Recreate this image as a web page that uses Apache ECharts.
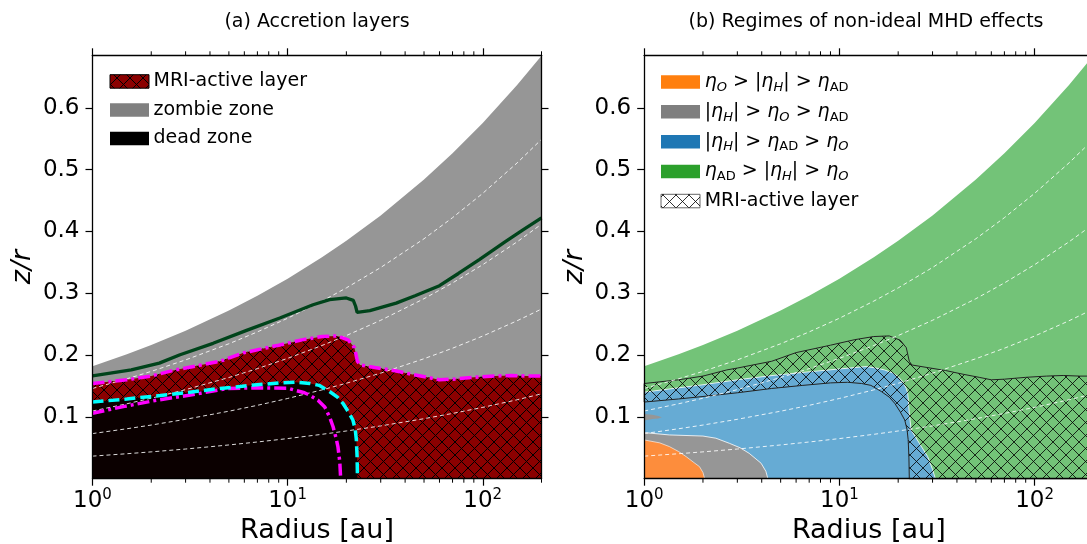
<!DOCTYPE html>
<html>
<head>
<meta charset="utf-8">
<script src="https://cdn.jsdelivr.net/npm/echarts@6/dist/echarts.min.js"></script>
<style>
  html, body { margin: 0; padding: 0; background: #fff; }
  #chart { width: 1087px; height: 544px; }
</style>
</head>
<body>
<div id="chart"></div>
<script>
const FONT = 'DejaVu Sans';

// disk surface and the 1..4 scale-height lines (z/r vs radius)
const radius = [1, 1.5, 2, 3, 5, 7, 10, 15, 20, 30, 50, 70, 100, 150, 200];
const surfaceZ = [0.182, 0.2014, 0.2164, 0.2395, 0.2721, 0.296, 0.3236, 0.3582, 0.3849, 0.4259, 0.484, 0.5264, 0.5755, 0.6369, 0.6844];
const scaleH1 = [0.0365, 0.0404, 0.0434, 0.048, 0.0546, 0.0594, 0.0649, 0.0718, 0.0772, 0.0854, 0.0971, 0.1056, 0.1154, 0.1277, 0.1373];
const scaleH2 = [0.073, 0.0808, 0.0868, 0.0961, 0.1092, 0.1187, 0.1298, 0.1437, 0.1544, 0.1708, 0.1941, 0.2111, 0.2308, 0.2555, 0.2745];
const scaleH3 = [0.1095, 0.1212, 0.1302, 0.1441, 0.1637, 0.1781, 0.1947, 0.2155, 0.2316, 0.2563, 0.2912, 0.3167, 0.3463, 0.3832, 0.4118];
const scaleH4 = [0.146, 0.1616, 0.1736, 0.1922, 0.2183, 0.2375, 0.2596, 0.2873, 0.3087, 0.3417, 0.3882, 0.4223, 0.4617, 0.5109, 0.549];

// top of the MRI-active layer (magenta dash-dot)
const activeR = [1, 1.5, 2, 2.65, 3, 4.5, 6, 9, 12, 15, 18, 20.5, 22, 22.8, 23.5, 28, 35, 43, 52, 60, 70, 90, 115, 140, 170, 200];
const activeZ = [0.154, 0.16, 0.166, 0.176, 0.179, 0.19, 0.204, 0.216, 0.225, 0.23, 0.231, 0.224, 0.212, 0.19, 0.184, 0.18, 0.175, 0.169, 0.164, 0.16, 0.161, 0.164, 0.166, 0.167, 0.166, 0.166];

// top of the dead zone (cyan dashed)
const deadR = [1, 1.5, 2, 3, 4.5, 6.5, 9, 11, 13, 14.5, 16.4, 18, 19.2, 20.5, 21.6, 22.2, 22.5, 22.7, 22.8];
const deadZ = [0.124, 0.129, 0.133, 0.139, 0.146, 0.151, 0.155, 0.156, 0.154, 0.151, 0.141, 0.132, 0.122, 0.108, 0.095, 0.08, 0.063, 0.035, 0];

// inner magenta dash-dot boundary
const innerR = [1, 1.46, 2.18, 3.23, 4.94, 7, 10, 12.2, 13, 14.3, 15.5, 16.4, 17.1, 17.7, 18.1, 18.5, 18.7];
const innerZ = [0.106, 0.117, 0.1275, 0.1357, 0.146, 0.147, 0.1465, 0.139, 0.135, 0.127, 0.116, 0.1, 0.084, 0.066, 0.052, 0.028, 0];

// dark green solid line
const greenR = [1, 1.58, 2.2, 2.81, 4.15, 6.16, 9.12, 13.5, 16.4, 20, 21.7, 22.3, 22.7, 23.2, 26.4, 36, 45, 60, 75, 96, 130, 160, 200];
const greenZ = [0.1665, 0.176, 0.187, 0.2005, 0.219, 0.24, 0.26, 0.2815, 0.2896, 0.2924, 0.2885, 0.279, 0.269, 0.2665, 0.272, 0.284, 0.296, 0.3123, 0.332, 0.3545, 0.383, 0.402, 0.422];

// regimes in panel (b)
const blueR = [1, 1.5, 2, 3, 4.4, 6.5, 9.6, 13.7, 15.4, 17, 18.8, 20, 21.1, 22, 22.4, 22.8, 23.3, 25.7, 28.3, 30, 30.6, 31];
const blueZ = [0.14, 0.147, 0.152, 0.16, 0.1665, 0.172, 0.177, 0.1815, 0.179, 0.176, 0.171, 0.165, 0.157, 0.146, 0.138, 0.106, 0.079, 0.057, 0.036, 0.015, 0.006, 0];
const grayR = [1, 1.345, 2, 2.33, 2.73, 3.1, 3.45, 3.97, 4.2, 4.3];
const grayZ = [0.0746, 0.0708, 0.069, 0.0655, 0.0573, 0.05, 0.041, 0.025, 0.012, 0];
const orangeR = [1, 1.2, 1.345, 1.5, 1.64, 1.8, 1.92, 2.0, 2.04];
const orangeZ = [0.0627, 0.058, 0.052, 0.044, 0.0357, 0.026, 0.0195, 0.01, 0];
const fingerR = [1, 1.1, 1.18, 1.23, 1.18, 1.1, 1];
const fingerZ = [0.1045, 0.1035, 0.1015, 0.0995, 0.0975, 0.0965, 0.094];

// ticks
const majorTicks = [1, 10, 100];
const minorTicks = [2, 3, 4, 5, 6, 7, 8, 9, 20, 30, 40, 50, 60, 70, 80, 90, 200];
const yTicks = [0.1, 0.2, 0.3, 0.4, 0.5, 0.6];
const yMax = 0.685;

function makeHatch(color, size) {
  const c = document.createElement('canvas');
  c.width = size; c.height = size;
  const ctx = c.getContext('2d');
  ctx.strokeStyle = color;
  ctx.lineWidth = 1;
  ctx.beginPath();
  ctx.moveTo(-1, -1); ctx.lineTo(size + 1, size + 1);
  ctx.moveTo(size + 1, -1); ctx.lineTo(-1, size + 1);
  ctx.stroke();
  return c;
}
const hatchA = { image: makeHatch('#000', 13), repeat: 'repeat' };
const hatchB = { image: makeHatch('rgba(0,0,0,0.8)', 13), repeat: 'repeat' };

function pairs(rs, zs) { return rs.map((r, i) => [r, zs[i]]); }
function under(rs, zs) {
  return [[rs[0], 0]].concat(pairs(rs, zs), [[rs[rs.length - 1], 0]]);
}
function band(topR, topZ, lowR, lowZ) {
  return pairs(topR, topZ).concat([[topR[topR.length - 1], 0]], pairs(lowR, lowZ).reverse());
}

function area(g, pts, style) {
  return {
    type: 'custom', xAxisIndex: g * 2, yAxisIndex: g * 2, silent: true, data: pts,
    renderItem: (params, api) => params.dataIndex === 0
      ? { type: 'polygon', shape: { points: pts.map(p => api.coord(p)) }, style: style }
      : null
  };
}
function line(g, rs, zs, lineStyle) {
  return {
    type: 'line', xAxisIndex: g * 2, yAxisIndex: g * 2, silent: true,
    data: pairs(rs, zs), symbol: 'none', lineStyle: lineStyle
  };
}
function dashedH(g) {
  const ls = { color: 'rgba(255,255,255,0.85)', width: 1, type: [4, 3] };
  return [scaleH1, scaleH2, scaleH3, scaleH4].map(h => line(g, radius, h, ls));
}
function minorTickSeries(g) {
  return {
    type: 'custom', xAxisIndex: g * 2, yAxisIndex: g * 2, silent: true, clip: false, z: 10,
    data: minorTicks.map(t => [t, 0]),
    renderItem: (params, api) => {
      const b = api.coord([api.value(0), 0]);
      const t = api.coord([api.value(0), yMax]);
      const st = { stroke: '#000', lineWidth: 1 };
      return {
        type: 'group', children: [
          { type: 'line', shape: { x1: b[0], y1: b[1], x2: b[0], y2: b[1] + 4 }, style: st },
          { type: 'line', shape: { x1: t[0], y1: t[1], x2: t[0], y2: t[1] - 4 }, style: st }
        ]
      };
    }
  };
}

const spine = { color: '#000', width: 1.3 };
const tickStyle = { color: '#000', width: 1.2 };
function xAxes(g) {
  return [
    {
      gridIndex: g, type: 'log', min: 1, max: 200, position: 'bottom', z: 10,
      axisLine: { onZero: false, lineStyle: spine },
      axisTick: { customValues: majorTicks, length: 7, lineStyle: tickStyle },
      axisLabel: {
        customValues: majorTicks, margin: 9, color: '#000',
        formatter: v => '{b|10}{e|' + Math.round(Math.log10(v)) + '}',
        rich: {
          b: { fontSize: 23, fontFamily: FONT, color: '#000', lineHeight: 26 },
          e: { fontSize: 15, fontFamily: FONT, color: '#000', verticalAlign: 'top', lineHeight: 15 }
        }
      },
      splitLine: { show: false },
      name: 'Radius [au]', nameLocation: 'middle', nameGap: 36,
      nameTextStyle: { fontSize: 27, fontFamily: FONT, color: '#000' }
    },
    {
      gridIndex: g, type: 'log', min: 1, max: 200, position: 'top', z: 10,
      axisLine: { onZero: false, lineStyle: spine },
      axisTick: { customValues: majorTicks, length: 7, lineStyle: tickStyle },
      axisLabel: { show: false },
      splitLine: { show: false }
    }
  ];
}
function yAxes(g) {
  return [
    {
      gridIndex: g, type: 'value', min: 0, max: yMax, position: 'left', z: 10,
      axisLine: { show: true, lineStyle: spine },
      axisTick: { show: true, customValues: yTicks, length: 7, lineStyle: tickStyle },
      axisLabel: {
        customValues: yTicks, margin: 13, fontSize: 23, fontFamily: FONT, color: '#000',
        formatter: v => v.toFixed(1)
      },
      splitLine: { show: false },
      name: 'z/r', nameLocation: 'middle', nameGap: 56, nameRotate: 90,
      nameTextStyle: { fontSize: 27, fontFamily: FONT, fontStyle: 'italic', color: '#000' }
    },
    {
      gridIndex: g, type: 'value', min: 0, max: yMax, position: 'right', z: 10,
      axisLine: { show: true, lineStyle: spine },
      axisTick: { show: true, customValues: yTicks, length: 7, lineStyle: tickStyle },
      axisLabel: { show: false },
      splitLine: { show: false }
    }
  ];
}

// legend helpers (graphic elements)
function patch(x, y, fill, stroke) {
  return { type: 'rect', shape: { x: x, y: y, width: 39, height: 13.5 }, style: { fill: fill, stroke: stroke || null, lineWidth: 1 }, z: 20 };
}
function label(x, y, text, rich) {
  return {
    type: 'text', x: x, y: y, z: 20,
    style: { text: text, fontSize: 19, fontFamily: FONT, fill: '#000', verticalAlign: 'middle', textVerticalAlign: 'middle', rich: rich }
  };
}
const mathRich = {
  e: { fontSize: 19, fontFamily: FONT, fontStyle: 'italic', fill: '#000', lineHeight: 24 },
  o: { fontSize: 13, fontFamily: FONT, fontStyle: 'italic', fill: '#000', lineHeight: 13, verticalAlign: 'bottom' },
  a: { fontSize: 13, fontFamily: FONT, fill: '#000', lineHeight: 13, verticalAlign: 'bottom' },
  t: { fontSize: 19, fontFamily: FONT, fill: '#000', lineHeight: 24 }
};
const regimeLabels = [
  '{e|η}{o|O}{t| > |}{e|η}{o|H}{t|| > }{e|η}{a|AD}',
  '{t||}{e|η}{o|H}{t|| > }{e|η}{o|O}{t| > }{e|η}{a|AD}',
  '{t||}{e|η}{o|H}{t|| > }{e|η}{a|AD}{t| > }{e|η}{o|O}',
  '{e|η}{a|AD}{t| > |}{e|η}{o|H}{t|| > }{e|η}{o|O}'
];
const regimeColors = ['#ff7f0e', '#7f7f7f', '#1f77b4', '#2ca02c'];

const graphic = [
  { type: 'text', x: 317, y: 22, style: { text: '(a) Accretion layers', fontSize: 19, fontFamily: FONT, fill: '#000', align: 'center', textAlign: 'center', verticalAlign: 'middle', textVerticalAlign: 'middle' } },
  { type: 'text', x: 866, y: 22, style: { text: '(b) Regimes of non-ideal MHD effects', fontSize: 19, fontFamily: FONT, fill: '#000', align: 'center', textAlign: 'center', verticalAlign: 'middle', textVerticalAlign: 'middle' } },
  patch(110, 74.7, '#8b0000', '#000'), patch(110, 74.7, hatchA),
  label(153.5, 81.4, 'MRI-active layer'),
  patch(110, 103.3, '#808080'), label(153.5, 110, 'zombie zone'),
  patch(110, 131.7, '#000'), label(153.5, 138.4, 'dead zone')
];
regimeLabels.forEach((t, i) => {
  graphic.push(patch(661, 75.3 + i * 29.8, regimeColors[i]));
  graphic.push(label(704.7, 82 + i * 29.8, t, mathRich));
});
graphic.push(patch(661, 194.3, '#fff', '#666'), patch(661, 194.3, hatchB), label(704.7, 201, 'MRI-active layer'));

const series = [
  // panel (a)
  area(0, under(radius, surfaceZ), { fill: '#969696' }),
  area(0, under(activeR, activeZ), { fill: '#8b0000' }),
  area(0, under(activeR, activeZ), { fill: hatchA }),
  area(0, under(deadR, deadZ), { fill: '#0b0000' }),
  ...dashedH(0),
  line(0, greenR, greenZ, { color: '#00441b', width: 3.3 }),
  line(0, activeR, activeZ, { color: '#ff00ff', width: 3.5, type: [12, 4, 3, 4] }),
  line(0, innerR, innerZ, { color: '#ff00ff', width: 3.5, type: [12, 4, 3, 4] }),
  line(0, deadR, deadZ, { color: '#00ffff', width: 3.5, type: [11, 5] }),
  minorTickSeries(0),
  // panel (b)
  area(1, under(radius, surfaceZ), { fill: '#73c378' }),
  area(1, under(blueR, blueZ), { fill: '#66abd4', stroke: 'rgba(255,255,255,0.8)', lineWidth: 1 }),
  area(1, under(grayR, grayZ), { fill: '#969696', stroke: 'rgba(255,255,255,0.8)', lineWidth: 1 }),
  area(1, pairs(fingerR, fingerZ), { fill: '#969696' }),
  area(1, under(orangeR, orangeZ), { fill: '#fd8d3c', stroke: 'rgba(255,255,255,0.6)', lineWidth: 1 }),
  area(1, band(activeR, activeZ, deadR, deadZ), { fill: hatchB, stroke: '#222', lineWidth: 1 }),
  ...dashedH(1),
  minorTickSeries(1)
];

const chart = echarts.init(document.getElementById('chart'), null, { renderer: 'canvas' });
chart.setOption({
  animation: false,
  backgroundColor: '#fff',
  grid: [
    { left: 92.5, top: 55.3, width: 449, height: 423.4, outerBoundsMode: 'none', containLabel: false },
    { left: 644.2, top: 55.3, width: 449.2, height: 423.4, outerBoundsMode: 'none', containLabel: false }
  ],
  xAxis: xAxes(0).concat(xAxes(1)),
  yAxis: yAxes(0).concat(yAxes(1)),
  graphic: graphic,
  series: series
});
</script>
</body>
</html>
